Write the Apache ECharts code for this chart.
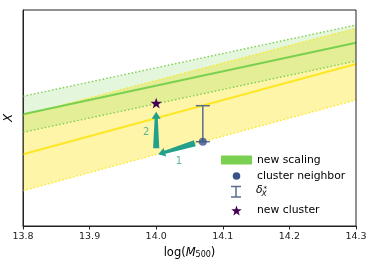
<!DOCTYPE html>
<html>
<head>
<meta charset="utf-8">
<script src="https://cdn.jsdelivr.net/npm/echarts@6/dist/echarts.min.js"></script>
<style>
html,body{margin:0;padding:0;background:#fff;}
#chart{width:374px;height:267px;}
</style>
</head>
<body>
<div id="chart"></div>
<script>
// ---- data ----
const xTicks = [13.8, 13.9, 14.0, 14.1, 14.2, 14.3];
const xEnds = [13.8, 14.3];
const greenMid = [111.7, 183.3];
const greenUp = [129.7, 201.0];
const greenLo = [93.7, 165.0];
const yellowMid = [71.7, 162.0];
const yellowUp = [110.7, 197.7];
const yellowLo = [35.3, 126.0];
const neighbor = [14.07, 84.3];
const neighborErr = [84.3, 120.3];
const newCluster = [14.0, 122.3];
const arrow1 = [[14.058, 82.8], [14.003, 71.7]];
const arrow2 = [[14.0, 77.7], [14.0, 114.3]];
const arrowLabels = [['1', 14.034, 64.3], ['2', 13.985, 93.3]];
const legendNames = ['new scaling', 'cluster neighbor', 'new cluster'];

// ---- colours ----
const GREEN = '#7ad151', YELLOW = '#fde725', TEAL = '#22a08a', BLUE = '#3b528b', PURPLE = '#440154', SLATE = '#5a6d8c';
const FONT = 'DejaVu Sans';

function starPoints(cx, cy, r) {
  const pts = [];
  for (let i = 0; i < 10; i++) {
    const a = -Math.PI / 2 + i * Math.PI / 5;
    const rr = i % 2 === 0 ? r : r * 0.4;
    pts.push([cx + rr * Math.cos(a), cy + rr * Math.sin(a)]);
  }
  return pts;
}

function band(up, lo, color, z) {
  return {
    type: 'custom', z: z, silent: true, data: [[14.0, 100]],
    renderItem: function (params, api) {
      const top = xEnds.map((x, i) => api.coord([x, up[i]]));
      const bot = xEnds.map((x, i) => api.coord([x, lo[i]])).reverse();
      return { type: 'polygon', shape: { points: top.concat(bot) }, style: { fill: color } };
    }
  };
}
function line(arr, color, dotted, z, w) {
  return {
    type: 'line', z: z, silent: true, symbol: 'none',
    data: xEnds.map((x, i) => [x, arr[i]]),
    lineStyle: { color: color, width: w, type: dotted ? [1.5, 2.2] : 'solid' }
  };
}
function arrow(a, z) {
  return {
    type: 'custom', z: z, silent: true, data: [[a[0][0], a[0][1]]],
    renderItem: function (params, api) {
      const p0 = api.coord(a[0]), p1 = api.coord(a[1]);
      const dx = p1[0] - p0[0], dy = p1[1] - p0[1];
      const L = Math.hypot(dx, dy);
      const d = [dx / L, dy / L], n = [-d[1], d[0]];
      const hl = 7, hw = 4.5, tw0 = 3.1, tw1 = 1.6;
      const b = [p1[0] - d[0] * hl, p1[1] - d[1] * hl];
      const pt = (p, k) => [p[0] + n[0] * k, p[1] + n[1] * k];
      return {
        type: 'polygon',
        shape: { points: [pt(p0, tw0), pt(b, tw1), pt(b, hw), p1, pt(b, -hw), pt(b, -tw1), pt(p0, -tw0)] },
        style: { fill: TEAL }
      };
    }
  };
}

const series = [
  band(yellowUp, yellowLo, 'rgba(253,231,37,0.4)', 1),
  band(greenUp, greenLo, 'rgba(122,209,81,0.2)', 2),
  line(yellowUp, YELLOW, true, 3, 1.4),
  line(yellowLo, YELLOW, true, 3, 1.4),
  line(greenUp, GREEN, true, 3, 1.4),
  line(greenLo, GREEN, true, 3, 1.4),
  line(yellowMid, YELLOW, false, 4, 2),
  line(greenMid, GREEN, false, 4, 2),
  {
    type: 'custom', z: 5, silent: true, data: [[neighbor[0], neighborErr[1]]],
    renderItem: function (params, api) {
      const t = api.coord([neighbor[0], neighborErr[1]]), b = api.coord([neighbor[0], neighborErr[0]]);
      const st = { stroke: SLATE, lineWidth: 1.5 };
      return { type: 'group', children: [
        { type: 'line', shape: { x1: t[0], y1: t[1], x2: b[0], y2: b[1] }, style: st },
        { type: 'line', shape: { x1: t[0] - 7, y1: t[1], x2: t[0] + 7, y2: t[1] }, style: st },
        { type: 'line', shape: { x1: b[0] - 7, y1: b[1], x2: b[0] + 7, y2: b[1] }, style: st }
      ] };
    }
  },
  arrow(arrow1, 6),
  arrow(arrow2, 6),
  {
    type: 'scatter', z: 7, silent: true, symbol: 'circle', symbolSize: 8,
    itemStyle: { color: BLUE }, data: [neighbor]
  },
  {
    type: 'custom', z: 7, silent: true, data: [newCluster],
    renderItem: function (params, api) {
      const c = api.coord(newCluster);
      return { type: 'polygon', shape: { points: starPoints(c[0], c[1], 6) }, style: { fill: PURPLE } };
    }
  },
  {
    type: 'scatter', z: 7, silent: true, symbolSize: 0,
    data: arrowLabels.map(l => ({ value: [l[1], l[2]], name: l[0] })),
    label: { show: true, position: 'inside', formatter: p => p.name, color: '#2fa592', fontFamily: FONT, fontSize: 10 }
  }
];

const LF = '10.8px ' + FONT;
const graphic = [
  { type: 'rect', shape: { x: 221, y: 155.5, width: 31, height: 9 }, style: { fill: GREEN } },
  { type: 'circle', shape: { cx: 236.5, cy: 176, r: 3.8 }, style: { fill: BLUE } },
  { type: 'line', shape: { x1: 236, y1: 186.5, x2: 236, y2: 197 }, style: { stroke: SLATE, lineWidth: 1.5 } },
  { type: 'line', shape: { x1: 231, y1: 186.5, x2: 241, y2: 186.5 }, style: { stroke: SLATE, lineWidth: 1.5 } },
  { type: 'line', shape: { x1: 231, y1: 197, x2: 241, y2: 197 }, style: { stroke: SLATE, lineWidth: 1.5 } },
  { type: 'polygon', shape: { points: starPoints(236.5, 211, 5.5) }, style: { fill: PURPLE } },
  { type: 'text', x: 257, y: 160, style: { text: legendNames[0], font: LF, fill: '#000', verticalAlign: 'middle' } },
  { type: 'text', x: 257, y: 176, style: { text: legendNames[1], font: LF, fill: '#000', verticalAlign: 'middle' } },
  { type: 'text', x: 256, y: 190.5, style: { text: 'δ', font: 'italic 10.8px ' + FONT, fill: '#000', verticalAlign: 'middle' } },
  { type: 'text', x: 261.5, y: 194.5, style: { text: 'X', font: 'italic 7.5px ' + FONT, fill: '#000', verticalAlign: 'middle' } },
  { type: 'text', x: 263.5, y: 189, style: { text: '*', font: '7px ' + FONT, fill: '#000', verticalAlign: 'middle' } },
  { type: 'text', x: 257, y: 210.5, style: { text: legendNames[2], font: LF, fill: '#000', verticalAlign: 'middle' } }
];

const chart = echarts.init(document.getElementById('chart'), null, { renderer: 'canvas' });
chart.setOption({
  animation: false,
  backgroundColor: '#fff',
  grid: { left: 23, right: 18, top: 10, bottom: 41, outerBoundsMode: 'none', containLabel: false, show: true, borderColor: '#222', borderWidth: 1, backgroundColor: 'transparent', z: 10 },
  xAxis: {
    type: 'value', min: xTicks[0], max: xTicks[xTicks.length - 1], interval: 0.1,
    name: '{n|log(}{i|M}{s|500}{n|)}', nameLocation: 'middle', nameGap: 20,
    nameTextStyle: {
      rich: {
        n: { fontFamily: FONT, fontSize: 11.5, color: '#000' },
        i: { fontFamily: FONT, fontSize: 11.5, fontStyle: 'italic', color: '#000' },
        s: { fontFamily: FONT, fontSize: 8, color: '#000', padding: [5, 0, 0, 0] }
      }
    },
    axisLine: { show: true, onZero: false, lineStyle: { color: '#222', width: 1 } },
    axisTick: { show: true, length: 3.5, lineStyle: { color: '#222' } },
    axisLabel: { fontFamily: FONT, fontSize: 9.5, color: '#222', margin: 6, formatter: v => v.toFixed(1) },
    splitLine: { show: false }
  },
  yAxis: {
    type: 'value', min: 0, max: 216,
    name: 'X', nameLocation: 'middle', nameGap: 8, nameRotate: 90,
    nameTextStyle: { fontFamily: FONT, fontSize: 12, fontStyle: 'italic', color: '#000' },
    axisLine: { show: true, lineStyle: { color: '#222' } },
    axisTick: { show: false }, axisLabel: { show: false }, splitLine: { show: false }
  },
  graphic: graphic,
  series: series
});
</script>
</body>
</html>
